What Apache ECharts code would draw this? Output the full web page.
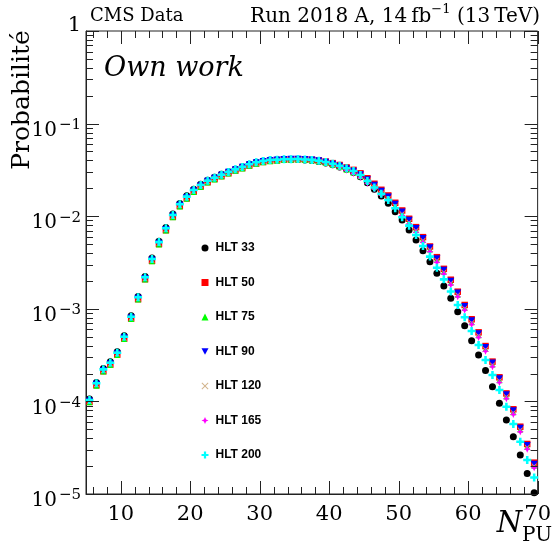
<!DOCTYPE html>
<html><head><meta charset="utf-8">
<script src="https://cdn.jsdelivr.net/npm/echarts@6/dist/echarts.min.js"></script>
<style>html,body{margin:0;padding:0;background:#fff}#c{width:554px;height:548px}</style>
</head><body><div id="c"></div>
<script>
const nPU = [5.5,6.5,7.5,8.5,9.5,10.5,11.5,12.5,13.5,14.5,15.5,16.5,17.5,18.5,19.5,20.5,21.5,22.5,23.5,24.5,25.5,26.5,27.5,28.5,29.5,30.5,31.5,32.5,33.5,34.5,35.5,36.5,37.5,38.5,39.5,40.5,41.5,42.5,43.5,44.5,45.5,46.5,47.5,48.5,49.5,50.5,51.5,52.5,53.5,54.5,55.5,56.5,57.5,58.5,59.5,60.5,61.5,62.5,63.5,64.5,65.5,66.5,67.5,68.5,69.5];

const hlt33 = [1.059e-4,1.603e-4,2.270e-4,2.679e-4,3.436e-4,5.12e-4,8.41e-4,1.361e-3,2.239e-3,3.532e-3,5.37e-3,7.57e-3,1.054e-2,1.374e-2,1.660e-2,1.954e-2,2.208e-2,2.449e-2,2.636e-2,2.831e-2,3.020e-2,3.221e-2,3.412e-2,3.631e-2,3.819e-2,3.945e-2,4.046e-2,4.074e-2,4.111e-2,4.102e-2,4.111e-2,4.046e-2,3.990e-2,3.890e-2,3.758e-2,3.589e-2,3.404e-2,3.192e-2,2.965e-2,2.661e-2,2.301e-2,1.950e-2,1.652e-2,1.377e-2,1.119e-2,9.10e-3,7.10e-3,5.53e-3,4.24e-3,3.23e-3,2.42e-3,1.76e-3,1.30e-3,9.31e-4,6.58e-4,4.53e-4,3.17e-4,2.15e-4,1.44e-4,9.53e-5,6.30e-5,4.16e-5,2.64e-5,1.67e-5,1.03e-5];

const hlt50 = [9.89e-5,1.496e-4,2.118e-4,2.500e-4,3.206e-4,4.775e-4,7.85e-4,1.271e-3,2.089e-3,3.296e-3,5.01e-3,7.06e-3,9.84e-3,1.288e-2,1.560e-2,1.845e-2,2.094e-2,2.333e-2,2.523e-2,2.716e-2,2.917e-2,3.119e-2,3.311e-2,3.532e-2,3.715e-2,3.855e-2,3.963e-2,4.018e-2,4.074e-2,4.111e-2,4.130e-2,4.111e-2,4.074e-2,3.999e-2,3.890e-2,3.741e-2,3.573e-2,3.365e-2,3.162e-2,2.904e-2,2.570e-2,2.239e-2,1.928e-2,1.675e-2,1.396e-2,1.153e-2,9.38e-3,7.62e-3,5.94e-3,4.71e-3,3.61e-3,2.70e-3,2.06e-3,1.53e-3,1.10e-3,7.71e-4,5.57e-4,3.96e-4,2.69e-4,1.82e-4,1.22e-4,8.22e-5,5.33e-5,3.47e-5,2.18e-5];

const hlt75 = [9.8e-5,1.48e-4,2.10e-4,2.47e-4,3.17e-4,4.73e-4,7.77e-4,1.258e-3,2.07e-3,3.26e-3,4.96e-3,6.99e-3,9.74e-3,1.275e-2,1.545e-2,1.827e-2,2.073e-2,2.310e-2,2.498e-2,2.689e-2,2.888e-2,3.088e-2,3.278e-2,3.497e-2,3.678e-2,3.817e-2,3.923e-2,3.978e-2,4.033e-2,4.070e-2,4.089e-2,4.050e-2,3.995e-2,3.900e-2,3.760e-2,3.590e-2,3.390e-2,3.150e-2,2.941e-2,2.701e-2,2.390e-2,2.082e-2,1.793e-2,1.558e-2,1.298e-2,1.072e-2,8.72e-3,7.09e-3,5.52e-3,4.38e-3,3.36e-3,2.51e-3,1.92e-3,1.42e-3,1.02e-3,7.17e-4,5.18e-4,3.68e-4,2.50e-4,1.69e-4,1.13e-4,7.64e-5,4.96e-5,3.23e-5,2.03e-5];

const hlt90 = [1.01e-4,1.53e-4,2.16e-4,2.55e-4,3.27e-4,4.87e-4,8.01e-4,1.296e-3,2.13e-3,3.36e-3,5.11e-3,7.20e-3,1.004e-2,1.314e-2,1.591e-2,1.882e-2,2.136e-2,2.380e-2,2.573e-2,2.770e-2,2.975e-2,3.181e-2,3.377e-2,3.590e-2,3.770e-2,3.900e-2,4.000e-2,4.045e-2,4.090e-2,4.115e-2,4.120e-2,4.090e-2,4.040e-2,3.959e-2,3.824e-2,3.647e-2,3.466e-2,3.247e-2,3.051e-2,2.802e-2,2.480e-2,2.161e-2,1.861e-2,1.616e-2,1.347e-2,1.113e-2,9.05e-3,7.35e-3,5.73e-3,4.55e-3,3.48e-3,2.61e-3,1.99e-3,1.48e-3,1.06e-3,7.44e-4,5.38e-4,3.82e-4,2.60e-4,1.76e-4,1.18e-4,7.93e-5,5.14e-5,3.35e-5,2.10e-5];

const hlt120 = [9.99e-5,1.51e-4,2.14e-4,2.53e-4,3.24e-4,4.82e-4,7.93e-4,1.284e-3,2.11e-3,3.33e-3,5.06e-3,7.13e-3,9.94e-3,1.301e-2,1.576e-2,1.863e-2,2.115e-2,2.356e-2,2.548e-2,2.743e-2,2.946e-2,3.150e-2,3.344e-2,3.560e-2,3.740e-2,3.870e-2,3.970e-2,4.010e-2,4.050e-2,4.070e-2,4.075e-2,4.040e-2,3.980e-2,3.880e-2,3.740e-2,3.565e-2,3.360e-2,3.120e-2,2.909e-2,2.672e-2,2.364e-2,2.060e-2,1.774e-2,1.541e-2,1.284e-2,1.061e-2,8.63e-3,7.01e-3,5.46e-3,4.33e-3,3.32e-3,2.48e-3,1.90e-3,1.41e-3,1.01e-3,7.09e-4,5.12e-4,3.64e-4,2.47e-4,1.67e-4,1.12e-4,7.56e-5,4.90e-5,3.19e-5,2.01e-5];

const hlt165 = [1.03e-4,1.56e-4,2.21e-4,2.60e-4,3.34e-4,4.97e-4,8.17e-4,1.322e-3,2.17e-3,3.43e-3,5.22e-3,7.35e-3,1.024e-2,1.338e-2,1.617e-2,1.907e-2,2.160e-2,2.400e-2,2.592e-2,2.790e-2,2.985e-2,3.190e-2,3.385e-2,3.610e-2,3.795e-2,3.925e-2,4.025e-2,4.055e-2,4.100e-2,4.105e-2,4.110e-2,4.060e-2,4.010e-2,3.915e-2,3.780e-2,3.600e-2,3.400e-2,3.140e-2,2.900e-2,2.620e-2,2.262e-2,1.970e-2,1.697e-2,1.474e-2,1.228e-2,1.015e-2,8.25e-3,6.71e-3,5.23e-3,4.14e-3,3.18e-3,2.38e-3,1.81e-3,1.35e-3,9.68e-4,6.78e-4,4.90e-4,3.48e-4,2.37e-4,1.60e-4,1.07e-4,7.23e-5,4.69e-5,3.05e-5,1.92e-5];

const hlt200 = [1.035e-4,1.567e-4,2.218e-4,2.618e-4,3.357e-4,5.0e-4,8.22e-4,1.330e-3,2.188e-3,3.451e-3,5.25e-3,7.40e-3,1.030e-2,1.346e-2,1.626e-2,1.919e-2,2.173e-2,2.415e-2,2.606e-2,2.805e-2,2.999e-2,3.206e-2,3.404e-2,3.631e-2,3.819e-2,3.945e-2,4.046e-2,4.074e-2,4.121e-2,4.121e-2,4.150e-2,4.093e-2,4.055e-2,3.972e-2,3.846e-2,3.690e-2,3.508e-2,3.289e-2,3.076e-2,2.786e-2,2.399e-2,2.042e-2,1.746e-2,1.496e-2,1.216e-2,9.73e-3,7.91e-3,6.26e-3,4.76e-3,3.66e-3,2.78e-3,2.08e-3,1.54e-3,1.10e-3,8.09e-4,5.75e-4,4.06e-4,2.80e-4,1.93e-4,1.33e-4,8.77e-5,5.70e-5,3.67e-5,2.33e-5,1.51e-5];

const seriesNames = ['HLT 33','HLT 50','HLT 75','HLT 90','HLT 120','HLT 165','HLT 200'];

const xMajorTicks = [10,20,30,40,50,60,70];
const xMinorTicks = [6,8,12,14,16,18,22,24,26,28,32,34,36,38,42,44,46,48,52,54,56,58,62,64,66,68];
const yMajorTicks = [1e-5,1e-4,1e-3,1e-2,1e-1,1];
const yMinorTicks = [2e-5,3e-5,4e-5,5e-5,6e-5,7e-5,8e-5,9e-5,2e-4,3e-4,4e-4,5e-4,6e-4,7e-4,8e-4,9e-4,2e-3,3e-3,4e-3,5e-3,6e-3,7e-3,8e-3,9e-3,2e-2,3e-2,4e-2,5e-2,6e-2,7e-2,8e-2,9e-2,0.2,0.3,0.4,0.5,0.6,0.7,0.8,0.9];

const X_MIN = 5, X_MAX = 70, Y_MIN = 1e-5, Y_MAX = 1;

const seriesData = [hlt33, hlt50, hlt75, hlt90, hlt120, hlt165, hlt200];
const colors = ['#000000','#ff0000','#00ff00','#0000ff','#d2b48c','#ff00ff','#00ffff'];
const symbols = [
  'circle',
  'rect',
  'triangle',
  'path://M0,0H10L5,9Z',
  'path://M0,1L1,0L5,4L9,0L10,1L6,5L10,9L9,10L5,6L1,10L0,9L4,5Z',
  'path://M5,0L6.6,3.4L10,5L6.6,6.6L5,10L3.4,6.6L0,5L3.4,3.4Z',
  'path://M3.4,0H6.6V3.4H10V6.6H6.6V10H3.4V6.6H0V3.4H3.4Z'
];
const symSizes = [7, 6.5, 6, 7, 5, 7, 8];

const FRAME = '#222';
const SERIF = '"DejaVu Serif", "Liberation Serif", serif';

function tickSeries(name, vals, axis, len) {
  return {
    name: name, type: 'custom', silent: true, z: 10, clip: false,
    data: vals.map(v => axis === 'x' ? [v, Y_MIN] : [X_MIN, v]),
    renderItem: function (params, api) {
      const st = {stroke: FRAME, lineWidth: 1};
      if (axis === 'x') {
        const v = api.value(0);
        const b = api.coord([v, Y_MIN]);
        const t = api.coord([v, Y_MAX]);
        const x = Math.round(b[0]) + 0.5;
        return {type: 'group', children: [
          {type: 'line', shape: {x1: x, y1: b[1], x2: x, y2: b[1] - len}, style: st},
          {type: 'line', shape: {x1: x, y1: t[1], x2: x, y2: t[1] + len}, style: st}
        ]};
      } else {
        const v = api.value(1);
        const l = api.coord([X_MIN, v]);
        const r = api.coord([X_MAX, v]);
        const y = Math.round(l[1]) + 0.5;
        return {type: 'group', children: [
          {type: 'line', shape: {x1: l[0], y1: y, x2: l[0] + len, y2: y}, style: st},
          {type: 'line', shape: {x1: r[0], y1: y, x2: r[0] - len, y2: y}, style: st}
        ]};
      }
    }
  };
}

const dataSeries = seriesNames.map((nm, i) => ({
  name: nm, type: 'scatter',
  data: nPU.map((x, j) => [x, seriesData[i][j]]),
  symbol: symbols[i], symbolSize: symSizes[i],
  itemStyle: {color: colors[i], opacity: 1},
  z: 2 + i, animation: false
}));

const chart = echarts.init(document.getElementById('c'), null, {renderer: 'canvas'});
chart.setOption({
  animation: false,
  backgroundColor: '#fff',
  grid: {left: 86, right: 14, top: 31, bottom: 54, show: true, borderColor: FRAME, borderWidth: 1, backgroundColor: 'transparent'},
  xAxis: {
    type: 'value', min: X_MIN, max: X_MAX,
    axisLine: {show: true, lineStyle: {color: FRAME}},
    axisTick: {show: false}, splitLine: {show: false},
    axisLabel: {
      margin: 10, color: '#000', fontFamily: SERIF, fontSize: 21,
      showMinLabel: false,
      formatter: v => (xMajorTicks.indexOf(v) >= 0 ? String(v) : '')
    }
  },
  yAxis: {
    type: 'log', logBase: 10, min: Y_MIN, max: Y_MAX,
    axisLine: {show: true, lineStyle: {color: FRAME}},
    axisTick: {show: false}, splitLine: {show: false},
    axisLabel: {
      margin: 5, color: '#000', fontFamily: SERIF, fontSize: 20,
      padding: [11, 0, 0, 0],
      formatter: v => {
        const e = Math.round(Math.log10(v));
        if (e === 0) return '{o|1}';
        return '{b|10}{s|\u2212' + (-e) + '}';
      },
      rich: {
        o: {fontSize: 21, fontFamily: SERIF, color: '#000', align: 'right', lineHeight: 23, padding: [0, 0, 22, 0]},
        b: {fontSize: 20, fontFamily: SERIF, color: '#000', align: 'right', verticalAlign: 'bottom', lineHeight: 23},
        s: {fontSize: 15, fontFamily: SERIF, color: '#000', align: 'right', verticalAlign: 'top', lineHeight: 23, width: 24}
      }
    }
  },
  legend: {
    orient: 'vertical', left: 201.5, top: 242, padding: 0, itemWidth: 7, itemHeight: 7, itemGap: 22.5,
    textStyle: {fontFamily: '"Liberation Sans", Arial, sans-serif', fontWeight: 'bold', fontSize: 12, color: '#000', padding: [0, 0, 0, 2]},
    data: seriesNames,
    selectedMode: false
  },
  graphic: [
    {type: 'text', left: 90, top: 7, style: {text: 'CMS Data', font: '18px ' + SERIF, fill: '#000'}},
    {type: 'text', right: 14, top: 3, style: {
      text: '{b|Run 2018 A, 14\u2009fb}{s|\u22121}{b| (13\u2009TeV)}', fill: '#000',
      rich: {b: {fontSize: 20, fontFamily: SERIF, color: '#000', verticalAlign: 'bottom', lineHeight: 24},
             s: {fontSize: 13, fontFamily: SERIF, color: '#000', verticalAlign: 'top', lineHeight: 24}}
    }},
    {type: 'text', left: 104, top: 55, style: {text: 'Own work', font: 'italic 27px ' + SERIF, fill: '#000'}},
    {type: 'text', x: 22, y: 100, rotation: Math.PI / 2, style: {
      text: 'Probabilité', font: '25px ' + SERIF, fill: '#000',
      align: 'center', verticalAlign: 'middle', textAlign: 'center', textVerticalAlign: 'middle'}},
    {type: 'text', right: 2, top: 510, style: {
      text: '{n|N}{s|PU}', fill: '#000',
      rich: {n: {fontSize: 29, fontFamily: SERIF, fontStyle: 'italic', color: '#000', verticalAlign: 'top', lineHeight: 36},
             s: {fontSize: 20, fontFamily: SERIF, color: '#000', verticalAlign: 'bottom', lineHeight: 36}}
    }}
  ],
  series: dataSeries.concat([
    tickSeries('_xmaj', xMajorTicks, 'x', 13),
    tickSeries('_xmin', xMinorTicks, 'x', 7),
    tickSeries('_ymaj', yMajorTicks, 'y', 13),
    tickSeries('_ymin', yMinorTicks, 'y', 7)
  ])
});
</script></body></html>
